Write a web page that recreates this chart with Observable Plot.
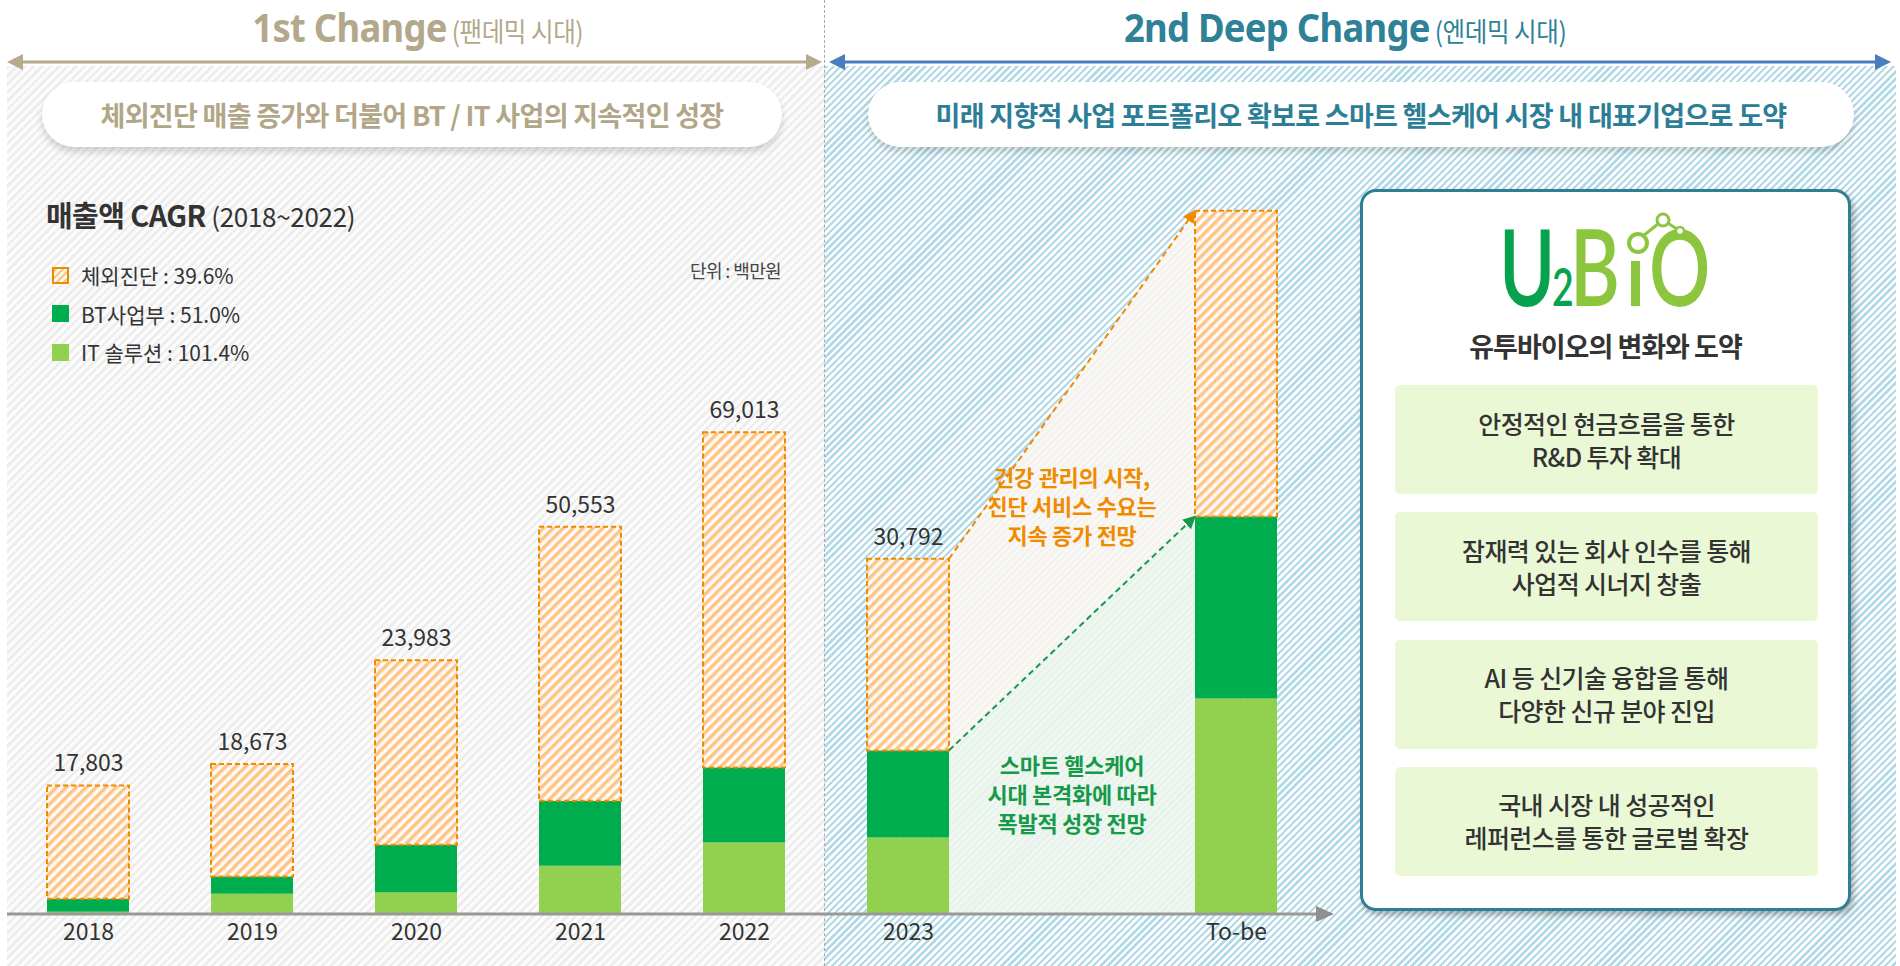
<!DOCTYPE html>
<html>
<head>
<meta charset="utf-8">
<script src="https://cdn.jsdelivr.net/npm/d3@7"></script>
<script src="https://cdn.jsdelivr.net/npm/@observablehq/plot@0.6"></script>
<style>
  body { margin:0; width:1900px; height:966px; overflow:hidden; background:#fff;
         font-family:"Noto Sans CJK KR","Noto Sans",sans-serif; }
  #root { position:relative; width:1900px; height:966px; }
  .abs { position:absolute; }
  .panelL { left:7px; top:66px; width:818px; height:900px;
            background:repeating-linear-gradient(135deg,#ededed 0 2.5px,#fbfbfb 2.5px 6px); }
  .panelR { left:825px; top:66px; width:1071px; height:900px;
            background:repeating-linear-gradient(135deg,#b3dbe7 0 2.3px,#ffffff 2.3px 5px); }
  .divider { left:824px; top:0; height:966px; border-left:1.5px dashed #a9a9a9; }
  .title { top:2px; height:50px; width:800px; text-align:center; line-height:50px; white-space:nowrap; }
  .title span.wrap { display:inline-block; transform:scaleX(0.91); transform-origin:center; }
  .title .big { font-family:"Noto Sans","Noto Sans CJK KR",sans-serif; font-size:40px; font-weight:700; letter-spacing:-0.8px; }
  .title .small { font-size:27px; font-weight:400; letter-spacing:-0.5px; }
  .pill { top:82px; height:65px; border-radius:33px; background:#fff;
          box-shadow:0 5px 7px rgba(0,0,0,0.16); display:flex; align-items:center; justify-content:center;
          font-size:27px; font-weight:700; letter-spacing:-0.7px; white-space:nowrap; }
  .legend-row { left:52px; height:24px; display:flex; align-items:center; font-size:21px; color:#333; white-space:nowrap; }
  .legend-row .sw { width:17px; height:17px; margin-right:12px; box-sizing:border-box; }
  .card { left:1360px; top:189px; width:491px; height:722px; box-sizing:border-box; background:#fff;
          border:3px solid #2d7f96; border-radius:16px; box-shadow:3px 4px 6px rgba(0,0,0,0.3); }
  .gbox { left:1395px; width:423px; height:109px; background:#eaf8d6; border-radius:5px;
          display:flex; align-items:center; justify-content:center; text-align:center;
          font-size:25px; font-weight:500; line-height:33px; color:#333; white-space:nowrap; letter-spacing:-0.6px; }
  .note { width:300px; text-align:center; font-size:22px; font-weight:700; letter-spacing:-0.3px; white-space:nowrap; }
</style>
</head>
<body>
<div id="root">
  <div class="abs panelL"></div>
  <div class="abs panelR"></div>
  <div class="abs divider"></div>
  <svg class="abs" id="deco" width="1900" height="966" style="left:0;top:0"></svg>
  <div class="abs" id="chart" style="left:0;top:0"></div>
</div>
<script>
// ---------------- data ----------------
const years = ["2018", "2019", "2020", "2021", "2022", "2023", "To-be"];
// segment sizes as drawn in the picture (백만원-equivalent bar heights)
const itSolution  = [330, 2910, 3100, 6920, 10260, 10980, 30900];
const btDivision  = [1860, 2480, 6830, 9310, 10750, 12470, 26080];
const diagnostics = [16240, 16110, 26450, 39260, 48020, 27470, 43810];
const totalLabels = ["17,803", "18,673", "23,983", "50,553", "69,013", "30,792", ""];
const legendLabels = ["체외진단 : 39.6%", "BT사업부 : 51.0%", "IT 솔루션 : 101.4%"];
const legendColors = ["hatch", "#00ad4e", "#92d050"];
const leftTitle = ["1st Change", "(팬데믹 시대)"];
const rightTitle = ["2nd Deep Change", "(엔데믹 시대)"];
const leftBanner = "체외진단 매출 증가와 더불어 BT / IT 사업의 지속적인 성장";
const rightBanner = "미래 지향적 사업 포트폴리오 확보로 스마트 헬스케어 시장 내 대표기업으로 도약";
const chartTitle = ["매출액 CAGR", "(2018~2022)"];
const unitLabel = "단위 : 백만원";
const noteOrange = ["건강 관리의 시작,", "진단 서비스 수요는", "지속 증가 전망"];
const noteGreen = ["스마트 헬스케어", "시대 본격화에 따라", "폭발적 성장 전망"];
const cardTitle = "유투바이오의 변화와 도약";
const cardItems = [
  ["안정적인 현금흐름을 통한", "R&D 투자 확대"],
  ["잠재력 있는 회사 인수를 통해", "사업적 시너지 창출"],
  ["AI 등 신기술 융합을 통해", "다양한 신규 분야 진입"],
  ["국내 시장 내 성공적인", "레퍼런스를 통한 글로벌 확장"]
];

const rows = years.map((year, i) => ({
  year, it: itSolution[i], bt: btDivision[i], dg: diagnostics[i], label: totalLabels[i]
}));
const xDomain = ["2018", "2019", "2020", "2021", "2022", "2023", "gap", "To-be"];

const C_IT = "#92d050", C_BT = "#00ad4e", C_OR = "#f08a00", C_GR = "#17994a";

// ---------------- chart ----------------
const chart = Plot.plot({
  width: 1900, height: 966,
  marginTop: 0, marginBottom: 52, marginLeft: 0, marginRight: 0,
  x: { type: "band", domain: xDomain, range: [2, 1321], paddingInner: 0.5, paddingOuter: 0.25 },
  y: { domain: [0, 131000], axis: null },
  style: { background: "transparent", color: "#333", overflow: "visible",
           fontFamily: "'Noto Sans CJK KR','Noto Sans',sans-serif" },
  marks: [
    Plot.barY(rows, { x: "year", y1: 0, y2: d => d.it, fill: C_IT }),
    Plot.barY(rows, { x: "year", y1: d => d.it, y2: d => d.it + d.bt, fill: C_BT }),
    Plot.barY(rows, { x: "year", y1: d => d.it + d.bt, y2: d => d.it + d.bt + d.dg,
                      fill: "url(#diagHatch)", stroke: C_OR, strokeWidth: 2, strokeDasharray: "5,3" }),
    Plot.text(rows.filter(d => d.label), { x: "year", y: d => d.it + d.bt + d.dg, text: "label",
                      dy: -22, fontSize: 23, fill: "#333" }),
    Plot.axisX({ ticks: years, tickSize: 0, tickPadding: 9, fontSize: 23, label: null })
  ]
});
document.getElementById("chart").appendChild(chart);

const svg = d3.select(chart);
const defs = svg.insert("defs", ":first-child");
const pat = defs.append("pattern").attr("id", "diagHatch").attr("patternUnits", "userSpaceOnUse")
  .attr("width", 7).attr("height", 7).attr("patternTransform", "rotate(45)");
pat.append("rect").attr("width", 7).attr("height", 7).attr("fill", "#fffaf4");
pat.append("rect").attr("width", 3.4).attr("height", 7).attr("fill", "#ffc386");
function marker(id, color) {
  defs.append("marker").attr("id", id).attr("viewBox", "0 0 10 10").attr("refX", 9).attr("refY", 5)
    .attr("markerWidth", 13).attr("markerHeight", 13).attr("markerUnits", "userSpaceOnUse")
    .attr("orient", "auto")
    .append("path").attr("d", "M0,0 L10,5 L0,10 z").attr("fill", color);
}
marker("arrOr", C_OR); marker("arrGr", C_GR);

const xs = chart.scale("x"), ys = chart.scale("y");
const bw = xs.bandwidth;
const r23 = rows[5], rTb = rows[6];
const xA = xs.apply("2023") + bw, xB = xs.apply("To-be");
const yTopA = ys.apply(r23.it + r23.bt + r23.dg), yTopB = ys.apply(rTb.it + rTb.bt + rTb.dg);
const yMidA = ys.apply(r23.it + r23.bt), yMidB = ys.apply(rTb.it + rTb.bt);
const y0 = ys.apply(0);

const back = svg.insert("g", "defs + *");
back.append("polygon").attr("points", [[xA, yTopA], [xB, yTopB], [xB, yMidB], [xA, yMidA]].join(" "))
  .attr("fill", "#fbf6f1").attr("fill-opacity", 0.88);
back.append("polygon").attr("points", [[xA, yMidA], [xB, yMidB], [xB, y0], [xA, y0]].join(" "))
  .attr("fill", "#edf6ee").attr("fill-opacity", 0.88);

const front = svg.append("g");
front.append("line").attr("x1", xA).attr("y1", yTopA).attr("x2", xB).attr("y2", yTopB)
  .attr("stroke", C_OR).attr("stroke-width", 2).attr("stroke-dasharray", "6,4").attr("marker-end", "url(#arrOr)");
front.append("line").attr("x1", xA).attr("y1", yMidA).attr("x2", xB).attr("y2", yMidB)
  .attr("stroke", C_GR).attr("stroke-width", 2).attr("stroke-dasharray", "6,4").attr("marker-end", "url(#arrGr)");
// baseline with arrow
front.append("line").attr("x1", 7).attr("x2", 1318).attr("y1", y0).attr("y2", y0)
  .attr("stroke", "#999").attr("stroke-width", 3);
front.append("path").attr("d", `M1316,${y0 - 8} L1334,${y0} L1316,${y0 + 8} Z`).attr("fill", "#8f8f8f");

// ---------------- decorations ----------------
const deco = d3.select("#deco");
function dblArrow(x1, x2, y, color) {
  deco.append("line").attr("x1", x1 + 10).attr("x2", x2 - 10).attr("y1", y).attr("y2", y)
    .attr("stroke", color).attr("stroke-width", 3);
  deco.append("path").attr("d", `M${x1},${y} L${x1 + 16},${y - 8} L${x1 + 16},${y + 8} Z`).attr("fill", color);
  deco.append("path").attr("d", `M${x2},${y} L${x2 - 16},${y - 8} L${x2 - 16},${y + 8} Z`).attr("fill", color);
}
dblArrow(7, 822, 62, "#b5aa8c");
dblArrow(829, 1891, 62, "#4a7dbd");

const root = d3.select("#root");
function title(cx, parts, color) {
  const d = root.append("div").attr("class", "abs title").style("left", (cx - 400) + "px").style("color", color);
  const w = d.append("span").attr("class", "wrap");
  w.append("span").attr("class", "big").text(parts[0]);
  w.append("span").attr("class", "small").text(" " + parts[1]);
}
title(418, leftTitle, "#b3a88b");
title(1345, rightTitle, "#2f8197");

root.append("div").attr("class", "abs pill").style("left", "42px").style("width", "740px")
  .style("color", "#b1a688").text(leftBanner);
root.append("div").attr("class", "abs pill").style("left", "868px").style("width", "986px")
  .style("color", "#2b7e95").text(rightBanner);

const ct = root.append("div").attr("class", "abs").style("left", "46px").style("top", "193px")
  .style("color", "#333").style("white-space", "nowrap");
ct.append("span").style("font-size", "29px").style("font-weight", "700").style("letter-spacing", "-0.6px").text(chartTitle[0]);
ct.append("span").style("font-size", "26px").style("letter-spacing", "-0.3px").text(" " + chartTitle[1]);

legendLabels.forEach((lab, i) => {
  const r = root.append("div").attr("class", "abs legend-row").style("top", (263 + i * 38.5) + "px");
  const sw = r.append("div").attr("class", "sw");
  if (legendColors[i] === "hatch") {
    sw.style("border", "2px solid " + C_OR)
      .style("background", "repeating-linear-gradient(135deg,#ffc386 0 2.5px,#fffaf4 2.5px 5px)");
  } else sw.style("background", legendColors[i]);
  r.append("span").text(lab);
});
root.append("div").attr("class", "abs").style("left", "690px").style("top", "257px")
  .style("font-size", "18px").style("color", "#444").style("letter-spacing", "-0.6px")
  .style("white-space", "nowrap").text(unitLabel);

function note(lines, top, color) {
  const d = root.append("div").attr("class", "abs note").style("left", (1072 - 150) + "px")
    .style("top", top + "px").style("color", color).style("line-height", "29px");
  d.html(lines.join("<br>"));
}
note(noteOrange, 462, C_OR);
note(noteGreen, 750, C_GR);

// ---------------- right card ----------------
root.append("div").attr("class", "abs card");
const logo = root.append("svg").attr("class", "abs").attr("width", 1900).attr("height", 966)
  .style("left", "0px").style("top", "0px").style("pointer-events", "none");
const sx = 0.72, ox = 1499;
const lt = logo.append("text").attr("transform", `translate(${ox},306) scale(${sx},1)`)
  .attr("font-family", "Lato, 'Open Sans', sans-serif").attr("font-weight", 600);
lt.append("tspan").attr("x", 0).attr("font-size", 106).attr("fill", "#07a24f").text("U");
lt.append("tspan").attr("x", (1552 - ox) / sx).attr("font-size", 52).attr("fill", "#07a24f").text("2");
lt.append("tspan").attr("x", (1570 - ox) / sx).attr("font-size", 106).attr("fill", "#8cc63f").text("B");
lt.append("tspan").attr("x", (1649 - ox) / sx).attr("font-size", 106).attr("fill", "#8cc63f").text("O");
logo.append("rect").attr("x", 1631).attr("y", 261).attr("width", 9).attr("height", 45).attr("fill", "#8cc63f");
logo.append("line").attr("x1", 1638).attr("y1", 240).attr("x2", 1663).attr("y2", 220)
  .attr("stroke", "#8cc63f").attr("stroke-width", 3);
logo.append("line").attr("x1", 1663).attr("y1", 220).attr("x2", 1680).attr("y2", 231)
  .attr("stroke", "#8cc63f").attr("stroke-width", 3);
logo.append("circle").attr("cx", 1638).attr("cy", 243).attr("r", 9).attr("fill", "#fff")
  .attr("stroke", "#8cc63f").attr("stroke-width", 4);
logo.append("circle").attr("cx", 1663).attr("cy", 220).attr("r", 6).attr("fill", "#fff")
  .attr("stroke", "#8cc63f").attr("stroke-width", 3);
logo.append("circle").attr("cx", 1680).attr("cy", 231).attr("r", 4).attr("fill", "#fff")
  .attr("stroke", "#8cc63f").attr("stroke-width", 2.5);

root.append("div").attr("class", "abs").style("left", "1360px").style("width", "491px")
  .style("top", "326px").style("text-align", "center").style("font-size", "27px")
  .style("font-weight", "700").style("letter-spacing", "-1px").style("color", "#333").text(cardTitle);

cardItems.forEach((lines, i) => {
  root.append("div").attr("class", "abs gbox").style("top", (385 + i * 127.3) + "px")
    .html("<div>" + lines.join("<br>") + "</div>");
});
</script>
</body>
</html>
